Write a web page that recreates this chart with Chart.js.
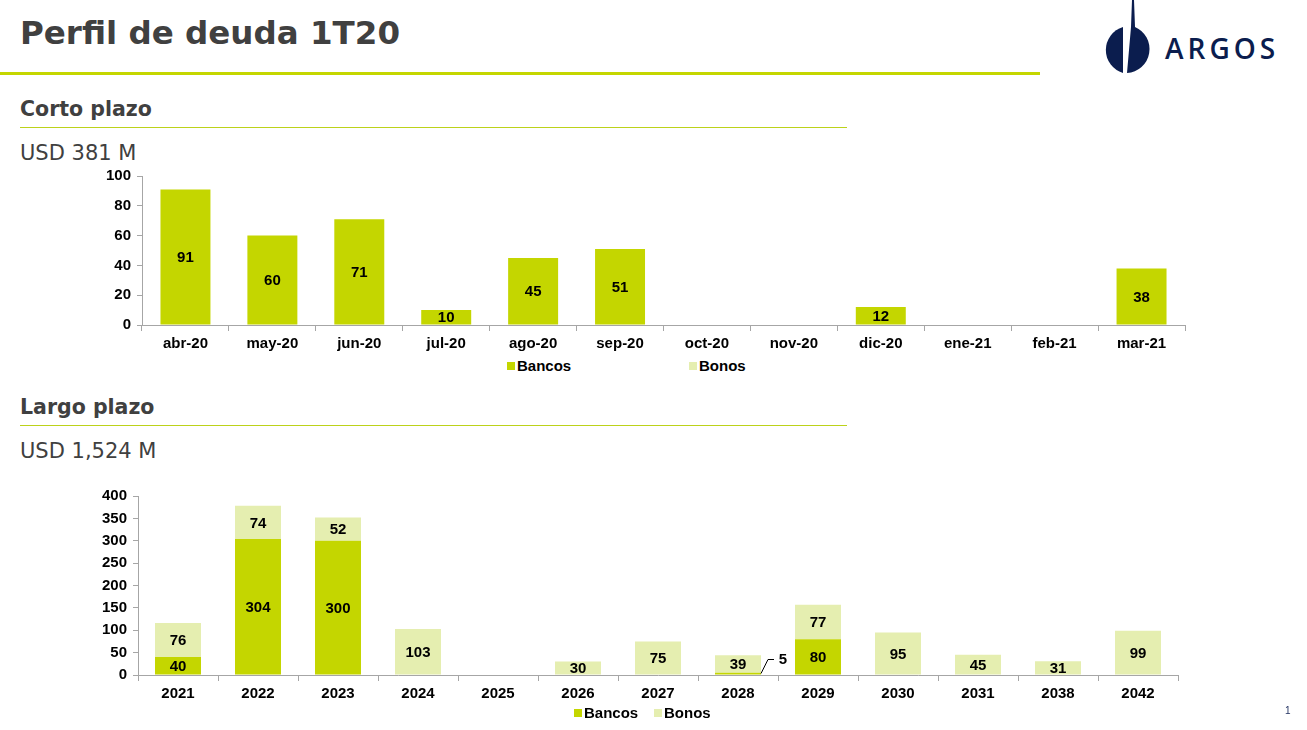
<!DOCTYPE html>
<html>
<head>
<meta charset="utf-8">
<script src="https://cdn.jsdelivr.net/npm/chart.js@4/dist/chart.umd.min.js"></script>
<style>
  body { margin: 0; width: 1307px; height: 730px; background: #fff; position: relative; overflow: hidden; font-family: "DejaVu Sans", sans-serif; }
  .abs { position: absolute; }
  #title { left: 20px; top: 14px; font-size: 32.5px; font-weight: bold; color: #404040; }
  #titleLine { left: 0; top: 72px; width: 1040px; height: 3px; background: #c4d600; }
  .sub { left: 20px; font-size: 20.5px; font-weight: bold; color: #404040; }
  .subLine { left: 20px; width: 827px; height: 1px; background: #bcd21a; }
  .usd { left: 20px; font-size: 21px; color: #404040; }
  .legend { font: bold 15px "Liberation Sans", Arial, sans-serif; color: #000; white-space: nowrap; }
  .legend span.box { display: inline-block; width: 8px; height: 8px; margin-right: 2px; vertical-align: 1px; }
  #logoText { left: 1165px; top: 29px; font: 600 28px "Open Sans", sans-serif; color: #0b1d4e; letter-spacing: 4px; }
  #page { left: 1285px; top: 705px; font: 10px "Liberation Sans", Arial, sans-serif; color: #1f2f5f; }
</style>
</head>
<body>
<div id="title" class="abs">Perfil de deuda 1T20</div>
<div id="titleLine" class="abs"></div>

<svg class="abs" style="left:1098px;top:0" width="60" height="80" viewBox="0 0 60 80">
  <path d="M25 27 A24 24 0 0 0 25 73 Z" fill="#0b1d4e"/>
  <path d="M29 73 L33 27 L34 0 L36 0 L37 27 A24 24 0 0 1 29 73 Z" fill="#0b1d4e"/>
</svg>
<div id="logoText" class="abs">ARGOS</div>

<div class="abs sub" style="top:97px">Corto plazo</div>
<div class="abs subLine" style="top:127px"></div>
<div class="abs usd" style="top:141px">USD 381 M</div>
<canvas id="cortoChart" class="abs" style="left:90px;top:161px"></canvas>
<div class="abs legend" style="left:507px;top:357px"><span class="box" style="background:#c4d600"></span>Bancos</div>
<div class="abs legend" style="left:689px;top:357px"><span class="box" style="background:#e5eeb0"></span>Bonos</div>

<div class="abs sub" style="top:395px">Largo plazo</div>
<div class="abs subLine" style="top:425px"></div>
<div class="abs usd" style="top:439px">USD 1,524 M</div>
<canvas id="largoChart" class="abs" style="left:86px;top:481px"></canvas>
<div class="abs legend" style="left:574px;top:704px"><span class="box" style="background:#c4d600"></span>Bancos</div>
<div class="abs legend" style="left:654px;top:704px"><span class="box" style="background:#e5eeb0"></span>Bonos</div>

<div id="page" class="abs">1</div>

<script>
// Corto plazo data
const meses = ['abr-20', 'may-20', 'jun-20', 'jul-20', 'ago-20', 'sep-20', 'oct-20', 'nov-20', 'dic-20', 'ene-21', 'feb-21', 'mar-21'];
const cortoBancos = [91, 60, 71, 10, 45, 51, 0, 0, 12, 0, 0, 38];
const cortoBonos = [0, 0, 0, 0, 0, 0, 0, 0, 0, 0, 0, 0];

// Largo plazo data
const anios = ['2021', '2022', '2023', '2024', '2025', '2026', '2027', '2028', '2029', '2030', '2031', '2038', '2042'];
const largoBancos = [40, 304, 300, 0, 0, 0, 0, 5, 80, 0, 0, 0, 0];
const largoBonos = [76, 74, 52, 103, 0, 30, 75, 39, 77, 95, 45, 31, 99];

const verde = '#c4d600';
const verdeClaro = '#e5eeb0';
const ejeColor = '#a6a6a6';
const fontEje = { family: '"Liberation Sans", Arial, sans-serif', size: 15, weight: 'bold' };

// values in the middle of each bar, small ones get a leader line
const valueLabels = {
    id: 'valueLabels',
    afterDatasetsDraw(chart) {
        const ctx = chart.ctx;
        ctx.save();
        ctx.font = 'bold 15px "Liberation Sans", Arial, sans-serif';
        ctx.fillStyle = '#000';
        ctx.textAlign = 'center';
        ctx.textBaseline = 'middle';
        chart.data.datasets.forEach((ds, i) => {
            chart.getDatasetMeta(i).data.forEach((bar, j) => {
                const v = ds.data[j];
                if (!v) return;
                const p = bar.getProps(['x', 'y', 'base', 'width'], true);
                const h = p.base - p.y;
                if (h < 12) {
                    const x0 = p.x + p.width / 2;
                    ctx.strokeStyle = '#000';
                    ctx.lineWidth = 1;
                    ctx.beginPath();
                    ctx.moveTo(x0, p.base - 1);
                    ctx.lineTo(x0 + 7, p.base - 15);
                    ctx.lineTo(x0 + 13, p.base - 15);
                    ctx.stroke();
                    ctx.fillText(v, x0 + 22, p.base - 15);
                } else {
                    ctx.fillText(v, p.x, (p.y + p.base) / 2 + 1);
                }
            });
        });
        ctx.restore();
    }
};

function makeChart(id, w, h, labels, bancos, bonos, max, step, padTop, padRight) {
    const canvas = document.getElementById(id);
    canvas.width = w;
    canvas.height = h;
    canvas.style.width = w + 'px';
    canvas.style.height = h + 'px';
    return new Chart(canvas.getContext('2d'), {
        type: 'bar',
        data: {
            labels: labels,
            datasets: [
                { label: 'Bancos', data: bancos, backgroundColor: verde },
                { label: 'Bonos', data: bonos, backgroundColor: verdeClaro }
            ]
        },
        options: {
            responsive: false,
            animation: false,
            devicePixelRatio: 1,
            barPercentage: 0.575,
            categoryPercentage: 1,
            layout: { padding: { top: padTop, right: padRight, left: 0, bottom: 0 } },
            scales: {
                x: {
                    stacked: true,
                    grid: { drawOnChartArea: false, color: ejeColor, tickLength: 6, offset: true },
                    border: { color: ejeColor },
                    ticks: { color: '#000', font: fontEje, padding: 4, maxRotation: 0, autoSkip: false },
                    afterFit(scale) { scale.height = 30; }
                },
                y: {
                    stacked: true,
                    min: 0,
                    max: max,
                    grid: { drawOnChartArea: false, color: ejeColor, tickLength: 5 },
                    border: { color: ejeColor },
                    ticks: { stepSize: step, color: '#000', font: fontEje, padding: 6 },
                    afterFit(scale) { scale.width = 52; }
                }
            },
            plugins: {
                legend: { display: false },
                tooltip: { enabled: false }
            }
        },
        plugins: [valueLabels]
    });
}

makeChart('cortoChart', 1110, 194, meses, cortoBancos, cortoBonos, 100, 20, 9, 15);
makeChart('largoChart', 1100, 224, anios, largoBancos, largoBonos, 400, 50, 11, 8);
</script>
</body>
</html>
